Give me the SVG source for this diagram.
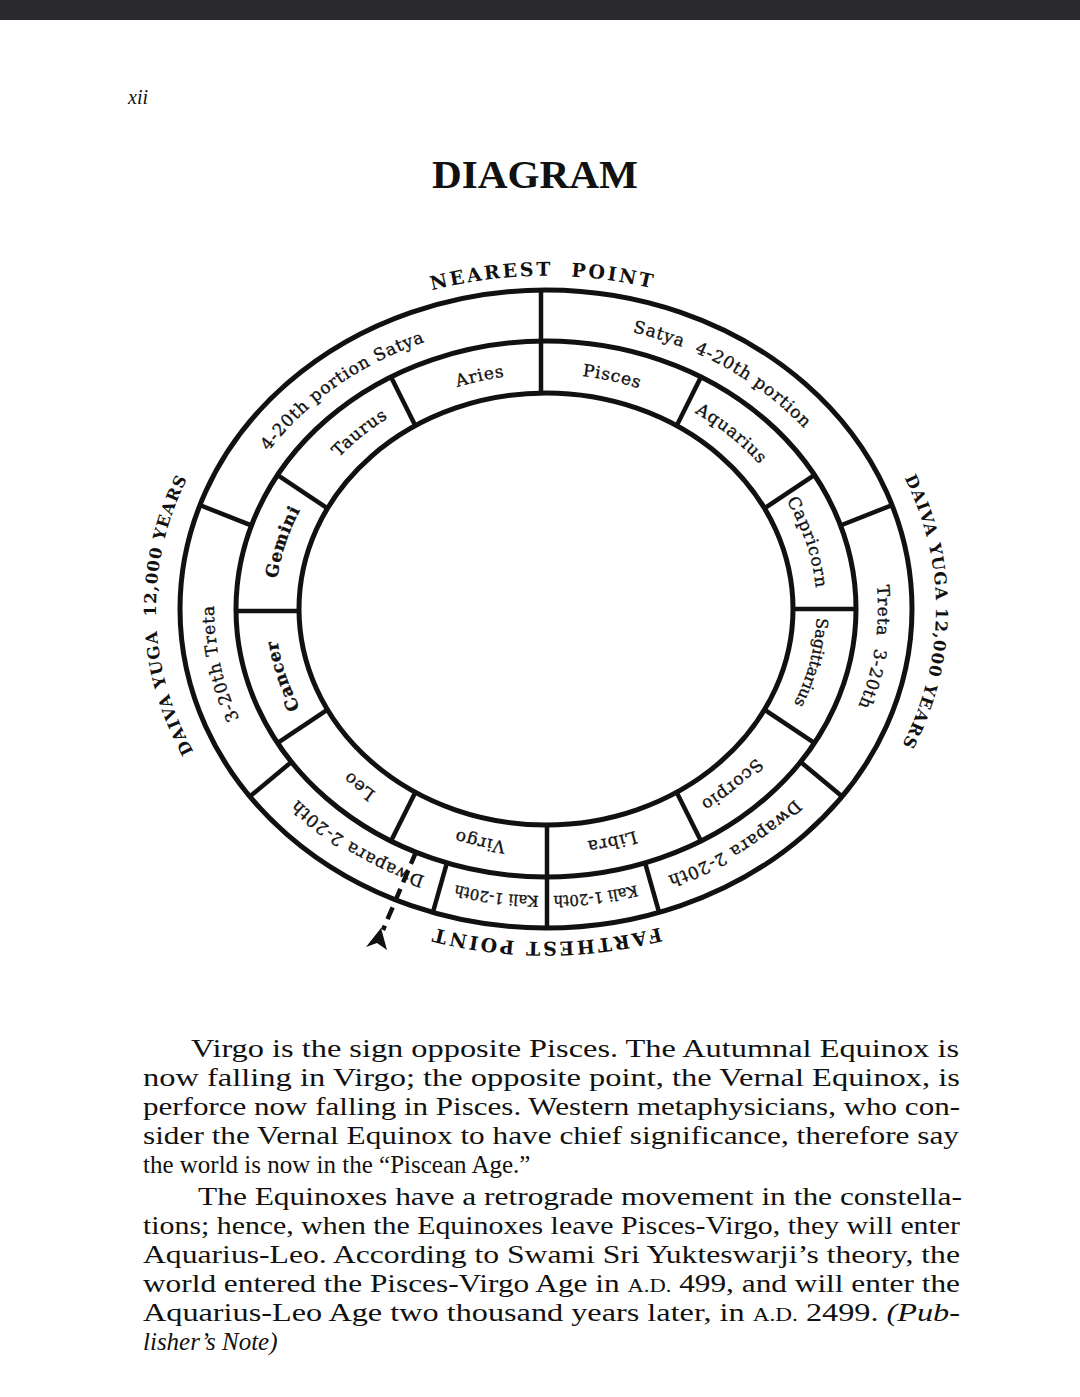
<svg xmlns="http://www.w3.org/2000/svg" xmlns:xlink="http://www.w3.org/1999/xlink" width="1080" height="1397" viewBox="0 0 1080 1397">
<style>
.ring{fill:none;stroke:#111;stroke-width:5}
.dv{stroke:#111;stroke-width:4.5;fill:none}
.z{font-family:"DejaVu Serif","Liberation Serif",serif;font-size:17px;letter-spacing:0.8px;fill:#111;stroke:#111;stroke-width:0.35}
.zs{font-size:15px;letter-spacing:0}
.zm{font-size:16px;letter-spacing:0}
.big{font-family:"DejaVu Serif","Liberation Serif",serif;font-size:19px;font-weight:bold;letter-spacing:2.5px;fill:#111}
.daiva{font-size:16.5px;letter-spacing:1px}
.body{font-family:"Liberation Serif","Times New Roman",serif;font-size:25px;fill:#111}
.sc{font-size:18px}
.it{font-style:italic}
</style>
<defs>
<clipPath id="cOuter"><path clip-rule="evenodd" d="M180,609 a366,319 0 1,0 732,0 a366,319 0 1,0 -732,0 Z M236,609 a310,268 0 1,0 620,0 a310,268 0 1,0 -620,0 Z"/></clipPath>
<clipPath id="cInner"><path clip-rule="evenodd" d="M236,609 a310,268 0 1,0 620,0 a310,268 0 1,0 -620,0 Z M299,609 a247,216 0 1,0 494,0 a247,216 0 1,0 -494,0 Z"/></clipPath>
<clipPath id="cAll"><path clip-rule="evenodd" d="M180,609 a366,319 0 1,0 732,0 a366,319 0 1,0 -732,0 Z M299,609 a247,216 0 1,0 494,0 a247,216 0 1,0 -494,0 Z"/></clipPath>
<path id="pAries" d="M300.4,509.7 A271,235 0 0 1 701.4,416.5"/>
<path id="pTaurus" d="M276.0,629.5 A271,235 0 0 1 569.6,374.9"/>
<path id="pGemini" d="M324.0,743.8 A271,235 0 0 1 431.5,396.0"/>
<path id="pCancer" d="M431.5,822.0 A271,235 0 0 1 324.0,474.2"/>
<path id="pLeo" d="M569.6,843.1 A271,235 0 0 1 276.0,588.5"/>
<path id="pVirgo" d="M701.4,801.5 A271,235 0 0 1 300.4,708.3"/>
<path id="pLibra" d="M791.6,708.3 A271,235 0 0 1 390.6,801.5"/>
<path id="pScorpio" d="M816.0,588.5 A271,235 0 0 1 522.4,843.1"/>
<path id="pSagittarius" d="M759.5,464.3 A271,235 0 0 1 673.2,816.5"/>
<path id="pCapricorn" d="M660.5,396.0 A271,235 0 0 1 768.0,743.8"/>
<path id="pAquarius" d="M522.4,374.9 A271,235 0 0 1 816.0,629.5"/>
<path id="pPisces" d="M390.6,416.5 A271,235 0 0 1 791.6,509.7"/>
<path id="pSatyaL" d="M214.1,614.0 A332,287 0 0 1 597.9,325.5"/>
<path id="pSatyaR" d="M460.1,331.8 A332,287 0 0 1 876.7,584.0"/>
<path id="pTretaL" d="M380,857.5 A332,287 0 0 1 291.7,424.5"/>
<path id="pTretaR" d="M788.8,413.3 A332,287 0 0 1 726.8,849.7"/>
<path id="pDwaparaL" d="M620.7,888.7 A332,287 0 0 1 214.5,624.0"/>
<path id="pDwaparaR" d="M877.5,624.0 A332,287 0 0 1 471.3,888.7"/>
<path id="pKaliL" d="M717.0,855.0 A332,287 0 0 1 295.4,797.3"/>
<path id="pKaliR" d="M796.6,797.3 A332,287 0 0 1 375.0,855.0"/>
<path id="pNear" d="M244.6,397.2 A390,333 0 0 1 842.6,392.8"/>
<path id="pFar" d="M844.7,823.0 A390,333 0 0 1 247.3,823.0"/>
<path id="pDaivaL" d="M300.6,867.8 A390,333 0 0 1 290.1,357.7"/>
<path id="pDaivaR" d="M799.3,355.8 A390,333 0 0 1 794.1,865.9"/>
</defs>

<rect x="0" y="0" width="1080" height="1397" fill="#fff"/>
<rect x="0" y="0" width="1080" height="20" fill="#2a2a2e"/>

<text x="128" y="104" font-family="'Liberation Serif',serif" font-style="italic" font-size="20" fill="#111">xii</text>
<text x="535" y="188" text-anchor="middle" font-family="'Liberation Serif',serif" font-weight="bold" font-size="40" fill="#111" textLength="206" lengthAdjust="spacingAndGlyphs">DIAGRAM</text>

<g id="rings">
<ellipse class="ring" cx="546" cy="609" rx="366" ry="319"/>
<ellipse class="ring" cx="546" cy="609" rx="310" ry="268"/>
<ellipse class="ring" cx="546" cy="609" rx="247" ry="216"/>
</g>

<g id="connectors">
<g clip-path="url(#cAll)">
<line class="dv" x1="541" y1="280" x2="541" y2="400"/>
<line class="dv" x1="547" y1="815" x2="547" y2="935"/>
</g>
<g clip-path="url(#cOuter)">
<line class="dv" x1="906.0" y1="499.6" x2="817.7" y2="534.5"/>
<line class="dv" x1="186.0" y1="499.6" x2="274.3" y2="534.5"/>
<line class="dv" x1="238.4" y1="806.1" x2="311.4" y2="745.3"/>
<line class="dv" x1="428.8" y1="926.8" x2="454.7" y2="835.4"/>
<line class="dv" x1="663.2" y1="926.8" x2="637.3" y2="835.4"/>
<line class="dv" x1="853.6" y1="806.1" x2="780.6" y2="745.3"/>
</g>
<g clip-path="url(#cInner)">
<line class="dv" x1="871" y1="609" x2="776" y2="609"/>
<line class="dv" x1="827.0" y1="466.7" x2="748.0" y2="519.4"/>
<line class="dv" x1="707.7" y1="363.5" x2="665.3" y2="448.5"/>
<line class="dv" x1="384.3" y1="363.5" x2="426.7" y2="448.5"/>
<line class="dv" x1="265.0" y1="466.7" x2="344.0" y2="519.4"/>
<line class="dv" x1="221" y1="611" x2="316" y2="611"/>
<line class="dv" x1="265.0" y1="751.3" x2="344.0" y2="698.6"/>
<line class="dv" x1="384.3" y1="854.5" x2="426.7" y2="769.5"/>
<line class="dv" x1="707.7" y1="854.5" x2="665.3" y2="769.5"/>
<line class="dv" x1="827.0" y1="751.3" x2="748.0" y2="698.6"/>
</g>
<line x1="416" y1="852" x2="383" y2="930" stroke="#111" stroke-width="4.5" stroke-dasharray="13 7"/>
<path d="M381,928 L387,950 L377,943 L366,947 Z" fill="#111"/>
</g>

<g id="zodiac">
<text class="z"><textPath xlink:href="#pAries" href="#pAries" startOffset="50%" text-anchor="middle">Aries</textPath></text>
<text class="z"><textPath xlink:href="#pTaurus" href="#pTaurus" startOffset="50%" text-anchor="middle">Taurus</textPath></text>
<text class="z" font-weight="bold"><textPath xlink:href="#pGemini" href="#pGemini" startOffset="50%" text-anchor="middle">Gemini</textPath></text>
<text class="z" font-weight="bold"><textPath xlink:href="#pCancer" href="#pCancer" startOffset="50%" text-anchor="middle">Cancer</textPath></text>
<text class="z"><textPath xlink:href="#pLeo" href="#pLeo" startOffset="50%" text-anchor="middle">Leo</textPath></text>
<text class="z"><textPath xlink:href="#pVirgo" href="#pVirgo" startOffset="50%" text-anchor="middle">Virgo</textPath></text>
<text class="z"><textPath xlink:href="#pLibra" href="#pLibra" startOffset="50%" text-anchor="middle">Libra</textPath></text>
<text class="z"><textPath xlink:href="#pScorpio" href="#pScorpio" startOffset="50%" text-anchor="middle">Scorpio</textPath></text>
<text class="z zm"><textPath xlink:href="#pSagittarius" href="#pSagittarius" startOffset="50%" text-anchor="middle">Sagittarius</textPath></text>
<text class="z"><textPath xlink:href="#pCapricorn" href="#pCapricorn" startOffset="50%" text-anchor="middle">Capricorn</textPath></text>
<text class="z"><textPath xlink:href="#pAquarius" href="#pAquarius" startOffset="50%" text-anchor="middle">Aquarius</textPath></text>
<text class="z"><textPath xlink:href="#pPisces" href="#pPisces" startOffset="50%" text-anchor="middle">Pisces</textPath></text>
</g>

<g id="yugas">
<text class="z"><textPath xlink:href="#pSatyaL" href="#pSatyaL" startOffset="50%" text-anchor="middle">4-20th portion Satya</textPath></text>
<text class="z"><textPath xlink:href="#pSatyaR" href="#pSatyaR" startOffset="50%" text-anchor="middle">Satya&#160; 4-20th portion</textPath></text>
<text class="z"><textPath xlink:href="#pTretaL" href="#pTretaL" startOffset="50%" text-anchor="middle">3-20th Treta</textPath></text>
<text class="z"><textPath xlink:href="#pTretaR" href="#pTretaR" startOffset="50%" text-anchor="middle">Treta&#160; 3-20th</textPath></text>
<text class="z"><textPath xlink:href="#pDwaparaL" href="#pDwaparaL" startOffset="50%" text-anchor="middle">Dwapara 2-20th</textPath></text>
<text class="z"><textPath xlink:href="#pDwaparaR" href="#pDwaparaR" startOffset="50%" text-anchor="middle">Dwapara 2-20th</textPath></text>
<text class="z zs"><textPath xlink:href="#pKaliL" href="#pKaliL" startOffset="50%" text-anchor="middle">Kali 1-20th</textPath></text>
<text class="z zs"><textPath xlink:href="#pKaliR" href="#pKaliR" startOffset="50%" text-anchor="middle">Kali 1-20th</textPath></text>
</g>

<g id="outside">
<text class="big"><textPath xlink:href="#pNear" href="#pNear" startOffset="50%" text-anchor="middle">NEAREST&#160; POINT</textPath></text>
<text class="big"><textPath xlink:href="#pFar" href="#pFar" startOffset="50%" text-anchor="middle">FARTHEST POINT</textPath></text>
<text class="big daiva"><textPath xlink:href="#pDaivaL" href="#pDaivaL" startOffset="50%" text-anchor="middle">DAIVA YUGA&#160; 12,000 YEARS</textPath></text>
<text class="big daiva"><textPath xlink:href="#pDaivaR" href="#pDaivaR" startOffset="50%" text-anchor="middle">DAIVA YUGA 12,000 YEARS</textPath></text>
</g>

<g id="note" class="body">
<text x="191" y="1057" textLength="768" lengthAdjust="spacingAndGlyphs">Virgo is the sign opposite Pisces. The Autumnal Equinox is</text>
<text x="143" y="1086" textLength="817" lengthAdjust="spacingAndGlyphs">now falling in Virgo; the opposite point, the Vernal Equinox, is</text>
<text x="143" y="1115" textLength="817" lengthAdjust="spacingAndGlyphs">perforce now falling in Pisces. Western metaphysicians, who con-</text>
<text x="143" y="1144" textLength="816" lengthAdjust="spacingAndGlyphs">sider the Vernal Equinox to have chief significance, therefore say</text>
<text x="143" y="1173">the world is now in the “Piscean Age.”</text>
<text x="198" y="1205" textLength="764" lengthAdjust="spacingAndGlyphs">The Equinoxes have a retrograde movement in the constella-</text>
<text x="143" y="1234" textLength="817" lengthAdjust="spacingAndGlyphs">tions; hence, when the Equinoxes leave Pisces-Virgo, they will enter</text>
<text x="143" y="1263" textLength="817" lengthAdjust="spacingAndGlyphs">Aquarius-Leo. According to Swami Sri Yukteswarji’s theory, the</text>
<text x="143" y="1292" textLength="817" lengthAdjust="spacingAndGlyphs">world entered the Pisces-Virgo Age in <tspan class="sc">A.D.</tspan> 499, and will enter the</text>
<text x="143" y="1321" textLength="817" lengthAdjust="spacingAndGlyphs">Aquarius-Leo Age two thousand years later, in <tspan class="sc">A.D.</tspan> 2499. <tspan class="it">(Pub-</tspan></text>
<text x="143" y="1350" class="it">lisher’s Note)</text>
</g>
</svg>
